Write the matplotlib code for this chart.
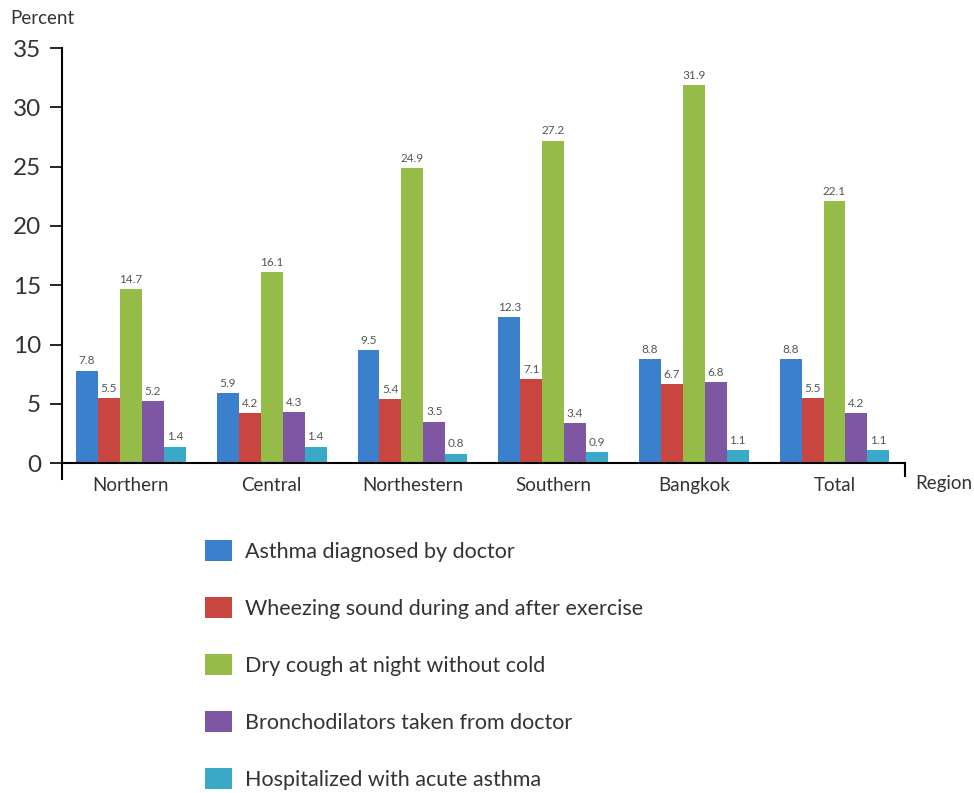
import matplotlib
matplotlib.use("Agg")
import matplotlib.pyplot as plt
import numpy as np
from matplotlib.patches import Patch

regions = ["Northern", "Central", "Northestern", "Southern", "Bangkok", "Total"]
series_names = [
    "Asthma diagnosed by doctor",
    "Wheezing sound during and after exercise",
    "Dry cough at night without cold",
    "Bronchodilators taken from doctor",
    "Hospitalized with acute asthma",
]
asthma_dx = [7.8, 5.9, 9.5, 12.3, 8.8, 8.8]
wheezing = [5.5, 4.2, 5.4, 7.1, 6.7, 5.5]
dry_cough = [14.7, 16.1, 24.9, 27.2, 31.9, 22.1]
bronchodil = [5.2, 4.3, 3.5, 3.4, 6.8, 4.2]
hospitalized = [1.4, 1.4, 0.8, 0.9, 1.1, 1.1]
yticks = [0, 5, 10, 15, 20, 25, 30, 35]

series = [asthma_dx, wheezing, dry_cough, bronchodil, hospitalized]
colors = ["#3A80CC", "#C8463F", "#95BC48", "#7D57A4", "#3AA9C8"]

plt.rcParams['font.family'] = ['Lato', 'DejaVu Sans']

fig = plt.figure(figsize=(9.74, 7.93), dpi=100)
ax = fig.add_axes([0.0637, 0.416, 0.929 - 0.0637, 0.5234])

x = np.arange(len(regions))
w = 0.156
for i, (vals, c) in enumerate(zip(series, colors)):
    pos = x + (i - 2) * w
    ax.bar(pos, vals, width=w, color=c, edgecolor='none', zorder=2)
    for p, v in zip(pos, vals):
        ax.text(p, v + 0.35, f"{v:.1f}", ha='center', va='bottom',
                fontsize=8.5, color='#555555')

for s in ['top', 'right']:
    ax.spines[s].set_visible(False)
ax.spines['left'].set_linewidth(1.5)
ax.spines['bottom'].set_linewidth(1.5)
ax.spines['left'].set_position(('data', -0.49))
ax.spines['left'].set_bounds(-1.3, 35)

ax.set_xlim(-0.49, 5.5)
ax.set_ylim(0, 35)
ax.set_yticks(yticks)
ax.set_yticklabels([str(t) for t in yticks])
ax.tick_params(axis='y', direction='out', length=9, width=1.2, pad=6,
               labelsize=17.5, labelcolor='#333333')
ax.set_xticks(x)
ax.set_xticklabels(regions)
ax.tick_params(axis='x', length=0, pad=10, labelsize=13.5,
               labelcolor='#333333')

ax.plot([1, 1], [0, -0.03], transform=ax.transAxes, color='black',
        lw=1.5, clip_on=False)

fig.text(10 / 974, 1 - 18 / 793, "Percent", fontsize=13.5, color='#333333',
         va='center', ha='left')
fig.text(915 / 974, 1 - 484 / 793, "Region", fontsize=13.5, color='#333333',
         va='center', ha='left')

handles = [Patch(facecolor=c, edgecolor='none') for c in colors]
leg = fig.legend(handles, series_names, loc='upper left',
                 bbox_to_anchor=(186 / 974, 1 - 521 / 793),
                 frameon=False, fontsize=15.5, handlelength=1.25,
                 handleheight=1.1, labelspacing=1.64, handletextpad=0.6,
                 labelcolor='#333333')

fig.savefig("out.png", dpi=100)
